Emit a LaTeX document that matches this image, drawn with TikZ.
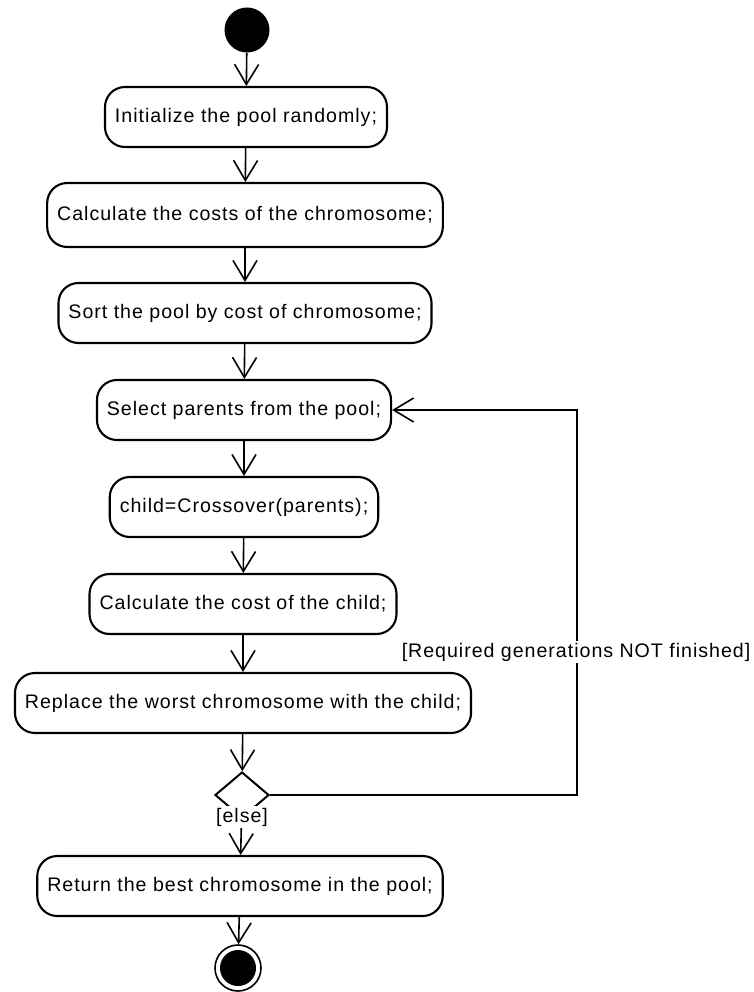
\documentclass[tikz,border=0pt]{standalone}
\usepackage{fontspec}
\setmainfont{Liberation Sans}[LetterSpace=5]
\usetikzlibrary{arrows.meta,shapes.geometric}
\begin{document}
\begin{tikzpicture}[x=1pt,y=-1pt,
  act/.style={draw, line width=2.1pt, rounded corners=20pt, minimum height=60pt,
    inner xsep=10pt, font=\fontsize{19.6}{22}\selectfont},
  flow/.style={line width=1.6pt, -{Straight Barb[length=20pt,width=24pt,line width=1.6pt]}},
  guard/.style={fill=white, inner sep=2pt, font=\fontsize{19.6}{22}\selectfont},
  startst/.style={circle, fill=black, minimum size=45pt, inner sep=0pt},
  endring/.style={circle, draw, line width=1.6pt, minimum size=46pt, inner sep=0pt},
  enddot/.style={circle, fill=black, minimum size=36pt, inner sep=0pt},
  decision/.style={diamond, draw, line width=2pt, minimum width=54pt, minimum height=46pt, inner sep=0pt}
]
\useasboundingbox (0,0) rectangle (754,992);

% activity nodes
\node[startst] (start) at (247,30) {};
\node[act] (init)    at (246,117) {Initialize the pool randomly;};
\node[act, minimum height=64pt] (calc) at (245,215) {Calculate the costs of the chromosome;};
\node[act] (sort)    at (245,313) {Sort the pool by cost of chromosome;};
\node[act] (select)  at (244,410) {Select parents from the pool;};
\node[act] (child)   at (244,507) {child=Crossover(parents);};
\node[act] (cost)    at (243,604) {Calculate the cost of the child;};
\node[act] (replace) at (243,703) {Replace the worst chromosome with the child;};
\node[decision] (dec) at (242,795) {};
\node[act] (ret)     at (240,886) {Return the best chromosome in the pool;};
\node[endring] (stop) at (238,968) {};
\node[enddot] at (stop.center) {};

% corners of the loop back
\coordinate (loopbot) at (577,795);
\coordinate (looptop) at (577,410);

% main flow
\draw[flow] (start) -- (init);
\draw[flow] (init) -- (calc);
\draw[flow] (calc) -- (sort);
\draw[flow] (sort) -- (select);
\draw[flow] (select) -- (child);
\draw[flow] (child) -- (cost);
\draw[flow] (cost) -- (replace);
\draw[flow] (replace) -- (dec);
\draw[flow] (dec) -- (ret);
\draw[flow] (ret) -- (stop);

% loop back to parent selection
\draw[flow] (dec.east) -- (loopbot) -- (looptop) -- (select.east);
\node[guard] (again) at (576,652) {[Required generations NOT finished]};

% exit guard
\node[guard] (elsel) at (242,817) {[else]};
\end{tikzpicture}
\end{document}
